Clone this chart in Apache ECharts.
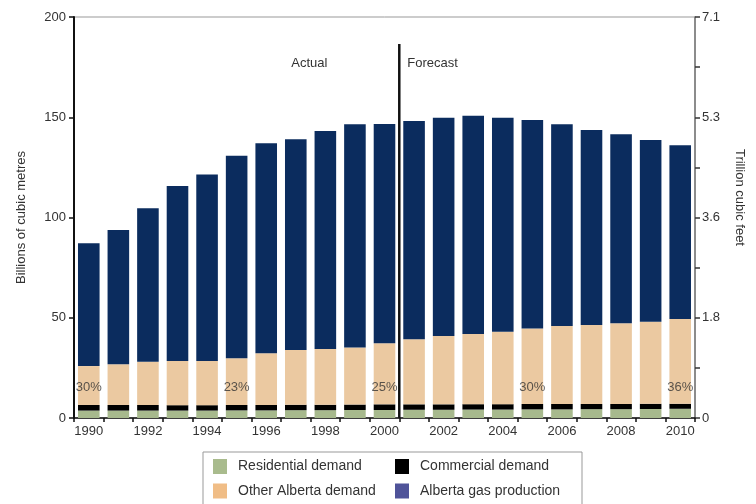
<!DOCTYPE html>
<html>
<head>
<meta charset="utf-8">
<script src="https://cdn.jsdelivr.net/npm/echarts@6/dist/echarts.min.js"></script>
<style>
html,body{margin:0;padding:0;background:#fff;}
#chart{width:756px;height:504px;}
</style>
</head>
<body>
<div id="chart"></div>
<script>
var years = ['1990','1991','1992','1993','1994','1995','1996','1997','1998','1999','2000','2001','2002','2003','2004','2005','2006','2007','2008','2009','2010'];
var residential = [3.7,3.7,3.7,3.7,3.7,3.8,3.8,3.9,3.9,4.0,4.0,4.1,4.1,4.2,4.2,4.3,4.3,4.4,4.4,4.5,4.6];
var commercial  = [2.8,2.8,2.8,2.7,2.7,2.7,2.7,2.7,2.7,2.7,2.8,2.7,2.7,2.7,2.7,2.7,2.7,2.6,2.6,2.6,2.5];
var otherAlberta = [19.4,20.3,21.6,22.0,22.0,23.3,25.8,27.3,27.8,28.4,30.5,32.5,34.1,35.0,36.1,37.7,38.9,39.4,40.2,40.9,42.3];
var production  = [61.2,67.0,76.5,87.3,93.1,101.0,104.7,105.1,108.7,111.4,109.3,108.8,108.9,108.9,106.8,103.9,100.6,97.2,94.3,90.7,86.6];
var pctYears  = ['1990','1995','2000','2005','2010'];
var pctLabels = ['30%','23%','25%','30%','36%'];
var pctLevel = 15.5;
var rightTickLabels = {0:'0',50:'1.8',100:'3.6',150:'5.3',200:'7.1'};
var lastActual = '2000', firstForecast = '2001';

var FONT = 'Liberation Sans, Arial, sans-serif';
var TXT = '#333';
var chart = echarts.init(document.getElementById('chart'));

var legendCommon = {orient: 'vertical', top: 459, height: 46, padding: 0, icon: 'rect', itemWidth: 14, itemHeight: 15, itemGap: 9.5,
  textStyle: {fontFamily: FONT, fontSize: 14, color: TXT, padding: [0,0,0,6]}};

var option = {
  animation: false,
  backgroundColor: '#fff',
  textStyle: {fontFamily: FONT},
  grid: {left: 74, right: 61, top: 17, bottom: 86, show: true, borderColor: '#999', borderWidth: 1},
  legend: [
    Object.assign({}, legendCommon, {left: 213,
     data: [{name: 'Residential demand', itemStyle: {color: '#a9bb8d'}},
            {name: 'Other Alberta demand', itemStyle: {color: '#f0bd86'}}]}),
    Object.assign({}, legendCommon, {left: 395,
     data: [{name: 'Commercial demand', itemStyle: {color: '#000'}},
            {name: 'Alberta gas production', itemStyle: {color: '#4f5399'}}]})
  ],
  xAxis: {
    type: 'category', data: years, boundaryGap: true,
    axisLine: {lineStyle: {color: '#111', width: 1.5}},
    axisTick: {show: true, interval: 0, length: 4, lineStyle: {color: '#111', width: 1.5}},
    axisLabel: {interval: 1, fontSize: 13, color: TXT, margin: 7}
  },
  yAxis: [
    {type: 'value', min: 0, max: 200, interval: 50, position: 'left',
     name: 'Billions of cubic metres', nameLocation: 'middle', nameGap: 46, nameRotate: 90,
     nameTextStyle: {fontSize: 13, color: TXT},
     axisLine: {show: true, lineStyle: {color: '#111', width: 2}},
     axisTick: {show: true, length: 5, lineStyle: {color: '#111', width: 1.5}},
     axisLabel: {fontSize: 13, color: TXT, margin: 8},
     splitLine: {show: false}},
    {type: 'value', min: 0, max: 200, interval: 25, position: 'right',
     axisLine: {show: true, lineStyle: {color: '#777', width: 1.5}},
     axisTick: {show: true, length: 5, lineStyle: {color: '#333', width: 1.5}},
     axisLabel: {fontSize: 13, color: TXT, margin: 7,
       formatter: function (v) { return rightTickLabels[v] !== undefined ? rightTickLabels[v] : ''; }},
     splitLine: {show: false}}
  ],
  series: [
    {name: 'Residential demand', type: 'bar', stack: 'g', data: residential, barCategoryGap: '27%',
     itemStyle: {color: '#a7b98d'}},
    {name: 'Commercial demand', type: 'bar', stack: 'g', data: commercial, itemStyle: {color: '#000'}},
    {name: 'Other Alberta demand', type: 'bar', stack: 'g', data: otherAlberta, itemStyle: {color: '#ebc9a1'}},
    {name: 'Alberta gas production', type: 'bar', stack: 'g', data: production, itemStyle: {color: '#0b2c5e'}},
    {name: 'pct', type: 'scatter', symbolSize: 0, silent: true,
     data: pctYears.map(function (y, i) { return {value: [y, pctLevel], label: {formatter: pctLabels[i]}}; }),
     label: {show: true, position: 'inside', fontSize: 13, color: TXT, fontFamily: FONT}}
  ]
};
chart.setOption(option);

function px(cat, v) { return chart.convertToPixel({xAxisIndex: 0, yAxisIndex: 0}, [cat, v]); }
var a = px(lastActual, 0), b = px(firstForecast, 0);
var divX = (a[0] + b[0]) / 2;
var divTop = px(lastActual, 186.5)[1];
var textY = px(lastActual, 177)[1];
var rightTitleY = px(lastActual, 110)[1];

chart.setOption({
  graphic: [
    {type: 'line', shape: {x1: divX, y1: divTop, x2: divX, y2: a[1]}, style: {stroke: '#111', lineWidth: 2.5}, z: 10},
    {type: 'text', x: divX - 90, y: textY, style: {text: 'Actual', fontSize: 13, fontFamily: FONT, fill: TXT, textAlign: 'center', textVerticalAlign: 'middle'}},
    {type: 'text', x: divX + 8, y: textY, style: {text: 'Forecast', fontSize: 13, fontFamily: FONT, fill: TXT, textAlign: 'left', textVerticalAlign: 'middle'}},
    {type: 'text', x: 740, y: rightTitleY, rotation: -Math.PI / 2, style: {text: 'Trillion cubic feet', fontSize: 13, fontFamily: FONT, fill: TXT, textAlign: 'center', textVerticalAlign: 'middle'}},
    {type: 'rect', shape: {x: 203, y: 452, width: 379, height: 60}, style: {fill: 'none', stroke: '#999', lineWidth: 1}}
  ]
});
</script>
</body>
</html>
